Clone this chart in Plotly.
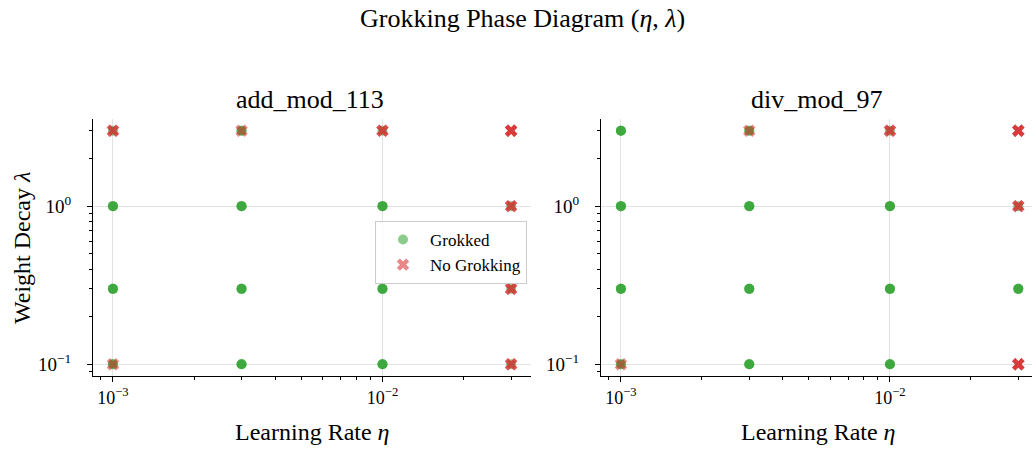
import plotly.graph_objects as go

# ---- data ----
learning_rates = [0.001, 0.003, 0.01, 0.03]
weight_decays = [0.1, 0.3, 1.0, 3.0]
n_seeds = 3
tasks = ["add_mod_113", "div_mod_97"]
# grokked seed counts; rows = weight decay (0.1, 0.3, 1, 3), cols = learning rate
add_grokked = [
    [2, 3, 3, 1],
    [3, 3, 3, 1],
    [3, 3, 3, 1],
    [1, 2, 1, 0],
]
div_grokked = [
    [2, 3, 3, 0],
    [3, 3, 3, 3],
    [3, 3, 3, 1],
    [3, 2, 1, 0],
]
x_tick_vals = [0.001, 0.01]
x_tick_text = ["10<sup>−3</sup>", "10<sup>−2</sup>"]
y_tick_vals = [0.1, 1.0]
y_tick_text = ["10<sup>−1</sup>", "10<sup>0</sup>"]

GREEN = "#2ca02c"
RED = "#d62728"
FONT = "Liberation Serif"

fig = go.Figure()

def expand(counts, grok):
    xs, ys = [], []
    for i, wd in enumerate(weight_decays):
        for j, lr in enumerate(learning_rates):
            k = counts[i][j] if grok else n_seeds - counts[i][j]
            xs += [lr] * k
            ys += [wd] * k
    return xs, ys

for idx, counts in enumerate([add_grokked, div_grokked]):
    xa = "x" if idx == 0 else "x2"
    ya = "y" if idx == 0 else "y2"
    gx, gy = expand(counts, True)
    nx, ny = expand(counts, False)
    fig.add_trace(go.Scatter(x=gx, y=gy, mode="markers", name="Grokked",
                             marker=dict(symbol="circle", size=10, color=GREEN, opacity=0.55,
                                         line=dict(width=0)),
                             xaxis=xa, yaxis=ya, showlegend=(idx == 0)))
    fig.add_trace(go.Scatter(x=nx, y=ny, mode="markers", name="No Grokking",
                             marker=dict(symbol="x", size=11, color=RED, opacity=0.55,
                                         line=dict(width=0)),
                             xaxis=xa, yaxis=ya, showlegend=(idx == 0)))

W, H = 1032, 451
minor_x = [m * 10.0 ** e for e in (-4, -3, -2) for m in range(2, 10)]
minor_y = [m * 10.0 ** e for e in (-2, -1, 0) for m in range(2, 10)]

common_x = dict(type="log", showline=True, linecolor="black", linewidth=1.2,
                ticks="outside", ticklen=5, tickwidth=1, tickcolor="black",
                tickvals=x_tick_vals, ticktext=x_tick_text,
                showgrid=True, gridcolor="#e3e3e3", gridwidth=1.2, zeroline=False,
                tickfont=dict(family=FONT, size=18, color="black"),
                minor=dict(tickvals=minor_x, ticks="outside", ticklen=3, tickwidth=1,
                           tickcolor="black", showgrid=False))
common_y = dict(type="log", showline=True, linecolor="black", linewidth=1.2,
                ticks="outside", ticklen=5, tickwidth=1, tickcolor="black",
                tickvals=y_tick_vals, ticktext=y_tick_text, ticklabelstandoff=12,
                showgrid=True, gridcolor="#e3e3e3", gridwidth=1.2, zeroline=False,
                range=[-1.074, 0.551],
                tickfont=dict(family=FONT, size=19, color="black"),
                minor=dict(tickvals=minor_y, ticks="outside", ticklen=3, tickwidth=1,
                           tickcolor="black", showgrid=False))

y_dom = [(H - 376) / H, (H - 119) / H]

def txt(text, x, y, size, angle=0):
    return dict(text=text, x=x / W, y=(H - y) / H, xref="paper", yref="paper",
                showarrow=False, xanchor="center", yanchor="middle", textangle=angle,
                font=dict(family=FONT, size=size, color="black"))

fig.update_layout(
    width=W, height=H,
    margin=dict(l=0, r=0, t=0, b=0),
    paper_bgcolor="white", plot_bgcolor="white",
    font=dict(family=FONT, color="black"),
    xaxis=dict(common_x, domain=[93 / W, 531 / W], range=[-3.074, -1.449], anchor="y"),
    yaxis=dict(common_y, domain=y_dom, anchor="x"),
    xaxis2=dict(common_x, domain=[601 / W, 1.0], range=[-3.074, -1.472], anchor="y2"),
    yaxis2=dict(common_y, domain=y_dom, anchor="x2"),
    legend=dict(x=527 / W, y=(H - 221) / H, xanchor="right", yanchor="top",
                bgcolor="rgba(255,255,255,0.8)", bordercolor="#cccccc", borderwidth=1,
                font=dict(family=FONT, size=17, color="black"), itemwidth=44,
                tracegroupgap=0),
    annotations=[
        txt("Grokking Phase Diagram (<i>η</i>, <i>λ</i>)", 522, 18, 26),
        txt(tasks[0], 310, 100, 26),
        txt(tasks[1], 816, 100, 26),
        txt("Learning Rate <i>η</i>", 312, 432, 24),
        txt("Learning Rate <i>η</i>", 818, 432, 24),
        txt("Weight Decay <i>λ</i>", 22, 248, 24, angle=-90),
    ],
)

fig.write_html("out.html", config={"displayModeBar": False},
               post_script="document.body.style.margin='0';")
